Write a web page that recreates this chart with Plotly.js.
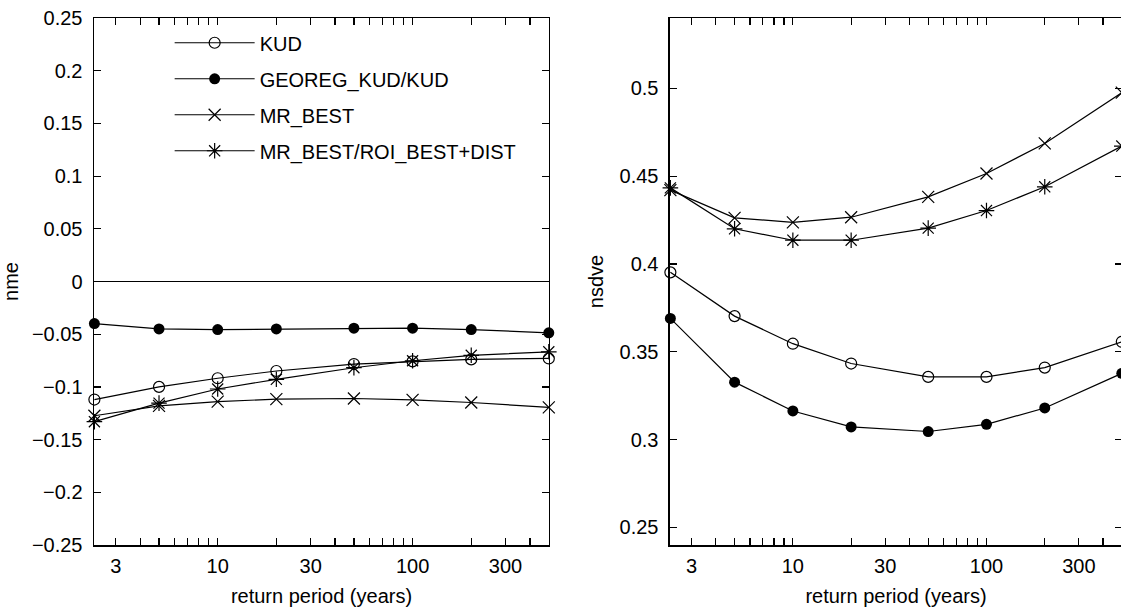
<!DOCTYPE html>
<html>
<head>
<meta charset="utf-8">
<script src="https://cdn.plot.ly/plotly-3.0.1.min.js"></script>
<style>
  html, body { margin: 0; padding: 0; background: #fff; overflow: hidden; }
  #chart { width: 1123px; height: 607px; }
</style>
</head>
<body>
<div id="chart"></div>
<script>
// Return periods (years)
const returnPeriods = [2.33, 5, 10, 20, 50, 100, 200, 500];

// Left panel: nme
const nmeKUD       = [-0.112, -0.100, -0.0918, -0.0849, -0.0783, -0.0758, -0.0739, -0.0730];
const nmeGEOREG    = [-0.0399, -0.0450, -0.0456, -0.0450, -0.0443, -0.0443, -0.0456, -0.0487];
const nmeMRBEST    = [-0.1274, -0.1180, -0.1140, -0.1116, -0.1110, -0.1123, -0.1148, -0.1195];
const nmeMRROI     = [-0.1330, -0.1154, -0.1020, -0.0928, -0.0818, -0.0752, -0.0700, -0.0667];

// Right panel: nsdve
const nsdveKUD     = [0.3952, 0.3703, 0.3546, 0.3433, 0.3357, 0.3357, 0.3410, 0.3557];
const nsdveGEOREG  = [0.3690, 0.3327, 0.3163, 0.3072, 0.3046, 0.3087, 0.3180, 0.3377];
const nsdveMRBEST  = [0.4420, 0.4262, 0.4237, 0.4266, 0.4382, 0.4515, 0.4686, 0.4975];
const nsdveMRROI   = [0.4433, 0.4200, 0.4135, 0.4135, 0.4204, 0.4304, 0.4439, 0.4671];

const seriesNames = ["KUD", "GEOREG_KUD/KUD", "MR_BEST", "MR_BEST/ROI_BEST+DIST"];

// Axis ticks
const xTickVals = [3, 10, 30, 100, 300];
const xTickText = ["3", "10", "30", "100", "300"];
const xMinorVals = [4, 5, 6, 7, 8, 9, 20, 40, 50, 60, 70, 80, 90, 200, 400];
const nmeTickVals = [-0.25, -0.2, -0.15, -0.1, -0.05, 0, 0.05, 0.1, 0.15, 0.2, 0.25];
const nmeTickText = ["\u22120.25", "\u22120.2", "\u22120.15", "\u22120.1", "\u22120.05", "0", "0.05", "0.1", "0.15", "0.2", "0.25"];
const nsdveTickVals = [0.25, 0.3, 0.35, 0.4, 0.45, 0.5];
const nsdveTickText = ["0.25", "0.3", "0.35", "0.4", "0.45", "0.5"];

const FONT = "Liberation Sans, Arial, Helvetica, sans-serif";
const FS = 20;
const LW = 1.2;

const markerStyles = [
  {symbol: "circle-open", size: 11, color: "#000", line: {color: "#000", width: LW}},
  {symbol: "circle", size: 11, color: "#000", line: {color: "#000", width: 0}},
  {symbol: "x-thin-open", size: 12, color: "#000", line: {color: "#000", width: LW}},
  {symbol: "asterisk-open", size: 13, color: "#000", line: {color: "#000", width: LW}}
];

const leftData = [nmeKUD, nmeGEOREG, nmeMRBEST, nmeMRROI];
const rightData = [nsdveKUD, nsdveGEOREG, nsdveMRBEST, nsdveMRROI];

const traces = [];
leftData.forEach((ys, i) => {
  traces.push({
    x: returnPeriods, y: ys, name: seriesNames[i], type: "scatter", mode: "lines+markers",
    xaxis: "x", yaxis: "y", line: {color: "#000", width: LW}, marker: markerStyles[i],
    legendgroup: "g" + i, showlegend: true, cliponaxis: false
  });
});
rightData.forEach((ys, i) => {
  traces.push({
    x: returnPeriods, y: ys, name: seriesNames[i], type: "scatter", mode: "lines+markers",
    xaxis: "x2", yaxis: "y2", line: {color: "#000", width: LW}, marker: markerStyles[i],
    legendgroup: "g" + i, showlegend: false, cliponaxis: false
  });
});

function xAxisCfg(domain, anchor) {
  return {
    type: "log", domain: domain, anchor: anchor,
    range: [Math.log10(2.33) - 0.002, Math.log10(500) + 0.001],
    tickmode: "array", tickvals: xTickVals, ticktext: xTickText,
    ticks: "inside", ticklen: 7, tickwidth: LW, tickcolor: "#000",
    minor: {tickmode: "array", tickvals: xMinorVals, ticks: "inside", ticklen: 7, tickwidth: LW, tickcolor: "#000", showgrid: false},
    showline: true, linecolor: "#000", linewidth: 1.5, mirror: "ticks",
    showgrid: false, zeroline: false,
    tickfont: {family: FONT, size: FS, color: "#000"},
    ticklabelstandoff: 2,
    title: {text: "return period (years)", font: {family: FONT, size: FS, color: "#000"}, standoff: 13}
  };
}
function yAxisCfg(range, vals, text, title, anchor, zl) {
  return {
    range: range, anchor: anchor, domain: [0, 1],
    tickmode: "array", tickvals: vals, ticktext: text,
    ticks: "inside", ticklen: 7, tickwidth: LW, tickcolor: "#000",
    showline: true, linecolor: "#000", linewidth: 1.5, mirror: "ticks",
    showgrid: false, zeroline: zl, zerolinecolor: "#000", zerolinewidth: 1.2,
    tickfont: {family: FONT, size: FS, color: "#000"},
    ticklabelstandoff: 6,
    title: {text: title, font: {family: FONT, size: FS, color: "#000"}, standoff: 10}
  };
}

const layout = {
  width: 1123, height: 607,
  margin: {l: 94, r: 1, t: 18, b: 62},
  paper_bgcolor: "#fff", plot_bgcolor: "#fff",
  font: {family: FONT, size: FS, color: "#000"},
  showlegend: true,
  legend: {
    x: 0.416, xanchor: "right", y: 0.99, yanchor: "top",
    bgcolor: "rgba(0,0,0,0)", borderwidth: 0,
    font: {family: FONT, size: FS, color: "#000"},
    traceorder: "grouped", tracegroupgap: 7, itemwidth: 80
  },
  xaxis: xAxisCfg([0, 0.4426], "y"),
  yaxis: yAxisCfg([-0.25, 0.25], nmeTickVals, nmeTickText, "nme", "x", true),
  xaxis2: xAxisCfg([0.5603, 1], "y2"),
  yaxis2: yAxisCfg([0.24, 0.54], nsdveTickVals, nsdveTickText, "nsdve", "x2", false)
};

Plotly.newPlot("chart", traces, layout, {displayModeBar: false, staticPlot: true});
</script>
</body>
</html>
